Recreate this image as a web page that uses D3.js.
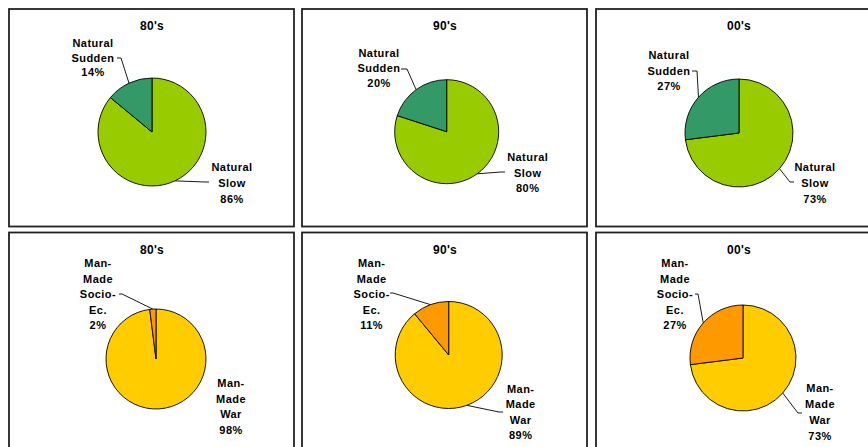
<!DOCTYPE html>
<html>
<head>
<meta charset="utf-8">
<script src="https://cdn.jsdelivr.net/npm/d3@7"></script>
<style>
  html, body { margin: 0; padding: 0; background: #fff; overflow: hidden; }
  svg { display: block; }
  text { font-family: "Liberation Sans", Arial, sans-serif; font-weight: bold; fill: #000; }
</style>
</head>
<body>
<svg id="chart" width="868" height="447"></svg>
<script>
// ---- data ----
const decades = ["80's", "90's", "00's"];
const naturalCategories = ["Natural Slow", "Natural Sudden"];
const naturalSlow = [86, 80, 73];
const naturalSudden = [14, 20, 27];
const manMadeCategories = ["Man-Made War", "Man-Made Socio-Ec."];
const manMadeWar = [98, 89, 73];
const manMadeSocio = [2, 11, 27];

// label text split into lines (as in the original)
const labelLines = {
  "Natural Slow": ["Natural", "Slow"],
  "Natural Sudden": ["Natural", "Sudden"],
  "Man-Made War": ["Man-", "Made", "War"],
  "Man-Made Socio-Ec.": ["Man-", "Made", "Socio-", "Ec."]
};
const colors = {
  "Natural Slow": "#99CC00",
  "Natural Sudden": "#339966",
  "Man-Made War": "#FFCC00",
  "Man-Made Socio-Ec.": "#FF9900"
};

// ---- layout ----
const panelX = [9, 302, 596];
const panelY = [9, 232.5];
const panelW = 285, panelH = 217.5;
const pieGeom = [
  [{cx: 152, cy: 132, r: 54}, {cx: 446.7, cy: 131.7, r: 52}, {cx: 739, cy: 133, r: 54}],
  [{cx: 156, cy: 359, r: 50}, {cx: 448.7, cy: 355, r: 53.5}, {cx: 743, cy: 358, r: 53}]
];
// label placement: [big slice label, small slice label]; x = centre, y = first line centre, lh = line height
// leader: elbow point and end point (null = no leader)
const labelGeom = [
  [
    [{x: 232, y: 167, lh: 16, elbow: [205, 182], end: [209, 182]},
     {x: 93, y: 43, lh: 14.7, elbow: [121, 58], end: [117, 58]}],
    [{x: 527.7, y: 157, lh: 15.5, elbow: [501, 172], end: [505, 172]},
     {x: 379, y: 53, lh: 15, elbow: [407, 69], end: [401, 69]}],
    [{x: 815, y: 167, lh: 16, elbow: [790, 182], end: [794, 182]},
     {x: 669, y: 55, lh: 15.5, elbow: [697, 71], end: [692, 71]}]
  ],
  [
    [{x: 231, y: 383, lh: 15.6, elbow: null, end: null},
     {x: 98, y: 263, lh: 15.5, elbow: [122, 294], end: [119, 294]}],
    [{x: 520.7, y: 389, lh: 15.3, elbow: [499, 412], end: [503, 412]},
     {x: 371.7, y: 263, lh: 15.5, elbow: [393, 293], end: [390, 293]}],
    [{x: 820, y: 388, lh: 16, elbow: [798, 413], end: [802, 413]},
     {x: 675, y: 263, lh: 15.5, elbow: [698, 294], end: [695, 294]}]
  ]
];
const titleY = [30, 254];

const rows = [
  {cats: naturalCategories, series: [naturalSlow, naturalSudden]},
  {cats: manMadeCategories, series: [manMadeWar, manMadeSocio]}
];

const svg = d3.select("#chart");
const pie = d3.pie().sort(null).value(d => d.value);

rows.forEach((row, ri) => {
  decades.forEach((dec, di) => {
    const g = svg.append("g");
    // panel border
    g.append("rect")
      .attr("x", panelX[di]).attr("y", panelY[ri])
      .attr("width", panelW).attr("height", panelH)
      .attr("fill", "#fff").attr("stroke", "#222").attr("stroke-width", 1.8);
    // title
    g.append("text")
      .attr("x", panelX[di] + panelW / 2 + 0.5).attr("y", titleY[ri])
      .attr("text-anchor", "middle").attr("font-size", 12)
      .style("letter-spacing", "0.3px")
      .text(dec);

    const geo = pieGeom[ri][di];
    const data = row.cats.map((c, k) => ({cat: c, value: row.series[k][di]}));
    const arcs = pie(data);
    const arc = d3.arc().innerRadius(0).outerRadius(geo.r);
    const pg = g.append("g").attr("transform", `translate(${geo.cx},${geo.cy})`);
    pg.selectAll("path").data(arcs).join("path")
      .attr("d", arc)
      .attr("fill", d => colors[d.data.cat])
      .attr("stroke", "#000").attr("stroke-width", 0.9).attr("stroke-linejoin", "round");

    arcs.forEach((a, k) => {
      const lg = labelGeom[ri][di][k];
      const mid = (a.startAngle + a.endAngle) / 2;
      const ex = geo.cx + geo.r * Math.sin(mid);
      const ey = geo.cy - geo.r * Math.cos(mid);
      if (lg.elbow) {
        g.append("polyline")
          .attr("points", [[ex, ey], lg.elbow, lg.end].map(p => p.join(",")).join(" "))
          .attr("fill", "none").attr("stroke", "#000").attr("stroke-width", 0.9);
      }
      const lines = labelLines[a.data.cat].concat([a.data.value + "%"]);
      const t = g.append("text")
        .attr("text-anchor", "middle").attr("font-size", 11)
        .style("letter-spacing", "0.45px");
      lines.forEach((ln, li) => {
        t.append("tspan")
          .attr("x", lg.x).attr("y", lg.y + li * lg.lh + 4)
          .text(ln);
      });
    });
  });
});
</script>
</body>
</html>
